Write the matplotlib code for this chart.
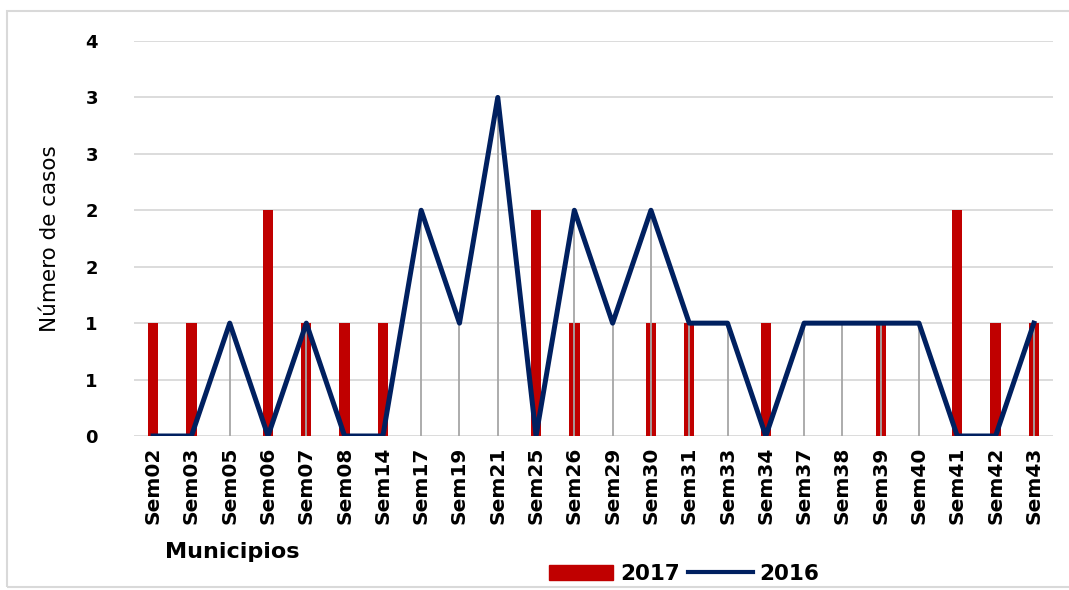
import numpy as np
import matplotlib.pyplot as plt
from matplotlib.patches import Rectangle
from matplotlib.lines import Line2D

# data
semanas = ["Sem02", "Sem03", "Sem05", "Sem06", "Sem07", "Sem08", "Sem14", "Sem17",
           "Sem19", "Sem21", "Sem25", "Sem26", "Sem29", "Sem30", "Sem31", "Sem33",
           "Sem34", "Sem37", "Sem38", "Sem39", "Sem40", "Sem41", "Sem42", "Sem43"]
casos_2017 = [1, 1, 0, 2, 1, 1, 1, 0, 0, 0, 2, 1, 0, 1, 1, 0, 1, 0, 0, 1, 0, 2, 1, 1]
casos_2016 = [0, 0, 1, 0, 1, 0, 0, 2, 1, 3, 0, 2, 1, 2, 1, 1, 0, 1, 1, 1, 1, 0, 0, 1]
y_ticks = [0, 0.5, 1, 1.5, 2, 2.5, 3, 3.5]
y_labels = ["0", "1", "1", "2", "2", "3", "3", "4"]

red = "#C00000"
navy = "#002060"

fig = plt.figure(figsize=(10.69, 5.9), dpi=100)
fig.patches.append(Rectangle((7 / 1069, 0.005), 1.0, (590 - 11) / 590 - 0.005,
                             transform=fig.transFigure, fill=False,
                             edgecolor="#D9D9D9", linewidth=1.5))
ax = fig.add_axes([134 / 1069, 154 / 590, 919 / 1069, 395 / 590])

x = np.arange(len(semanas))
ax.bar(x, casos_2017, width=0.27, color=red, zorder=2)
ax.vlines(x, 0, casos_2016, color="#A6A6A6", linewidth=1.3, zorder=3)
ax.plot(x, casos_2016, color=navy, linewidth=3.6, zorder=4, solid_joinstyle="round")

ax.set_xlim(-0.5, len(semanas) - 0.5)
ax.set_ylim(0, 3.5)
ax.set_yticks(y_ticks)
ax.set_yticklabels(y_labels, fontsize=13, fontweight="bold")
ax.set_xticks(x)
ax.set_xticklabels(semanas, rotation=90, fontsize=14.5, fontweight="bold")
ax.tick_params(axis="y", length=0, pad=26)
ax.tick_params(axis="x", length=0, pad=8)
ax.grid(axis="y", color="#D9D9D9", linewidth=1.3, zorder=0)
ax.set_axisbelow(True)
for s in ax.spines.values():
    s.set_visible(False)

ax.set_ylabel("Número de casos", fontsize=15.5, labelpad=18)
fig.text(165 / 1069, 1 - 552 / 590, "Municipios", fontsize=16, fontweight="bold",
         va="center", ha="left")

handles = [Rectangle((0, 0), 1, 1, color=red),
           Line2D([0], [0], color=navy, linewidth=3)]
fig.legend(handles, ["2017", "2016"], loc="center", ncol=2, frameon=False,
           bbox_to_anchor=(684 / 1069, 1 - 574 / 590),
           prop={"size": 15.5, "weight": "bold"}, handlelength=3.0,
           handletextpad=0.3, columnspacing=0.4)

fig.savefig("out.png", dpi=100)
